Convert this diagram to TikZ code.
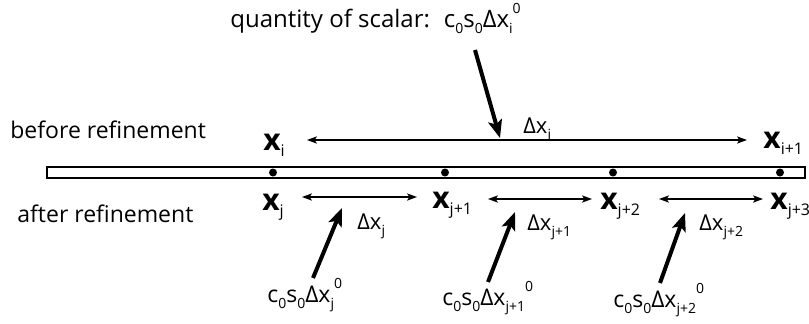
\documentclass[tikz,border=0pt]{standalone}
\usepackage{fontspec}
\setmainfont{Open Sans}
\usetikzlibrary{arrows.meta}

% labels used in the picture
\newcommand{\subs}[1]{\raisebox{-3pt}{\fontsize{7}{8}\selectfont #1}}
\newcommand{\sups}[1]{\raisebox{7pt}{\fontsize{7}{8}\selectfont #1}}
\newcommand{\ptlbl}[1]{{\fontsize{15}{18}\selectfont\bfseries x}\raisebox{-3pt}{\fontsize{8}{9}\selectfont #1}}
\newcommand{\dxlbl}[1]{{\fontsize{11}{13}\selectfont Δx}\subs{#1}}
\newcommand{\qlbl}[1]{c\subs{0}s\subs{0}Δx\subs{#1}\sups{0}}

\begin{document}
\begin{tikzpicture}[
    x=0.5pt, y=-0.5pt,
    font=\fontsize{11.5}{14}\selectfont,
    lbl/.style={anchor=base west, inner sep=0pt},
    gap/.style={line width=0.6pt,
      {Stealth[length=5pt,width=3.6pt,inset=1.2pt]}-{Stealth[length=5pt,width=3.6pt,inset=1.2pt]}},
    pointer/.style={line width=2pt, -{Stealth[length=9pt,width=7pt,inset=2pt]}}
  ]
  \useasboundingbox (0,0) rectangle (809,323);

  % --- bar and grid points ---------------------------------------------
  \draw[line width=1pt] (47,167) rectangle (805,178);
  \foreach \n/\px in {0/273,1/445,2/613,3/780}
    \fill (\px,172.5) coordinate (p\n) circle (2pt);

  % --- row titles ------------------------------------------------------
  \node[lbl] (before) at (10,138) {before refinement};
  \node[lbl] (after)  at (17,222) {after refinement};

  % --- coarse cell -----------------------------------------------------
  \node[lbl] (xi)  at (263,150) {\ptlbl{i}};
  \node[lbl] (xi1) at (763,148) {\ptlbl{i+1}};
  \coordinate (gi-l) at (307,140);
  \coordinate (gi-r) at (747,140);
  \draw[gap] (gi-l) -- (gi-r);
  \node[lbl] (dxi) at (523,133) {\dxlbl{i}};

  \node[lbl, font=\fontsize{12}{14}\selectfont] (qi) at (230,27)
    {quantity of scalar:\hspace{7pt}\qlbl{i}};
  \coordinate (qi-tail) at (475,50);
  \coordinate (qi-tip)  at (500,138);
  \draw[pointer] (qi-tail) -- (qi-tip);

  % --- fine cells ------------------------------------------------------
  \node[lbl] (xj)  at (262,210) {\ptlbl{j}};
  \node[lbl] (xj1) at (432,208) {\ptlbl{j+1}};
  \node[lbl] (xj2) at (600,209) {\ptlbl{j+2}};
  \node[lbl] (xj3) at (770,209) {\ptlbl{j+3}};

  \coordinate (gj-l)  at (302,197);
  \coordinate (gj-r)  at (417,197);
  \coordinate (gj1-l) at (488,199);
  \coordinate (gj1-r) at (592,199);
  \coordinate (gj2-l) at (659,199);
  \coordinate (gj2-r) at (763,199);
  \draw[gap] (gj-l)  -- (gj-r);
  \draw[gap] (gj1-l) -- (gj1-r);
  \draw[gap] (gj2-l) -- (gj2-r);

  \node[lbl] (dxj)  at (357,229) {\dxlbl{j}};
  \node[lbl] (dxj1) at (527,230) {\dxlbl{j+1}};
  \node[lbl] (dxj2) at (699,230) {\dxlbl{j+2}};

  % quantities carried by the fine cells
  \node[lbl] (qj)  at (267,302) {\qlbl{j}};
  \node[lbl] (qj1) at (442,305) {\qlbl{j+1}};
  \node[lbl] (qj2) at (613,307) {\qlbl{j+2}};

  \coordinate (qj-tail)  at (313,278);
  \coordinate (qj-tip)   at (342,208);
  \coordinate (qj1-tail) at (488,282);
  \coordinate (qj1-tip)  at (515,212);
  \coordinate (qj2-tail) at (660,283);
  \coordinate (qj2-tip)  at (685,213);
  \draw[pointer] (qj-tail)  -- (qj-tip);
  \draw[pointer] (qj1-tail) -- (qj1-tip);
  \draw[pointer] (qj2-tail) -- (qj2-tip);

\end{tikzpicture}
\end{document}
